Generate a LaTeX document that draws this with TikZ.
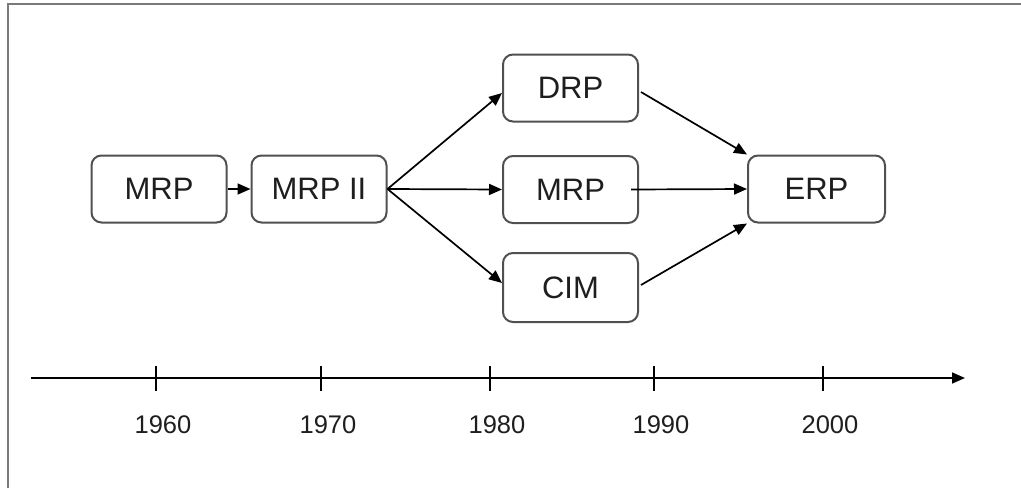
\documentclass[tikz,border=0pt]{standalone}
\usepackage{fontspec}
\setmainfont{Liberation Sans}
\usetikzlibrary{arrows.meta}
\definecolor{boxline}{HTML}{505050}
\definecolor{txt}{HTML}{1E1E1E}
\definecolor{frame}{HTML}{7A7A7A}
\tikzset{
  box/.style={draw=boxline, line width=2pt, rounded corners=10pt, minimum width=135pt, minimum height=67pt, inner sep=0pt, text=txt, font=\fontsize{31}{36}\selectfont},
  conn/.style={line width=1.7pt, -{Triangle[length=13pt,width=11pt]}},
  tick/.style={line width=1.6pt},
  year/.style={text=txt, font=\fontsize{25.5}{30}\selectfont, inner sep=0pt}
}
\begin{document}
\begin{tikzpicture}[x=1pt,y=-1pt]
\useasboundingbox (0,0) rectangle (1021,488);
% frame
\draw[frame, line width=2.2pt] (8,488) -- (8,4) -- (1021,4);
% boxes
\node[box] (mrpa) at (159,189) {MRP};
\node[box] (mrpii) at (319,189) {MRP II};
\node[box] (drp) at (570.5,88) {DRP};
\node[box] (mrpb) at (570.5,189.5) {MRP};
\node[box, minimum height=69pt] (cim) at (570.5,287.5) {CIM};
\node[box, minimum width=137pt] (erp) at (816.5,189) {ERP};
% connectors
\draw[conn] (mrpa.east) -- (mrpii.west);
\draw[conn] (mrpii.east) -- ([yshift=-5pt]drp.west);
\draw[conn] (mrpii.east) -- (mrpb.west);
\draw[conn] (mrpii.east) -- ([yshift=4.5pt]cim.west);
\draw[conn] ([yshift=-4pt,xshift=2pt]drp.east) -- (erp.north west);
\draw[conn] ([xshift=-8pt]mrpb.east) -- (erp.west);
\draw[conn] ([yshift=2.5pt,xshift=2pt]cim.east) -- (erp.south west);
% axis
\coordinate (axs) at (31,378);
\coordinate (axe) at (965,378);
\draw[conn] (axs) -- (axe);
\foreach \x/\y in {156/1960,321/1970,490/1980,654/1990,823/2000}{
  \coordinate (t\y a) at (\x,366);
  \coordinate (t\y b) at (\x,391);
  \draw[tick] (t\y a) -- (t\y b);
  \node[year] (l\y) at (\x+7,425) {\y};
}
\end{tikzpicture}
\end{document}
